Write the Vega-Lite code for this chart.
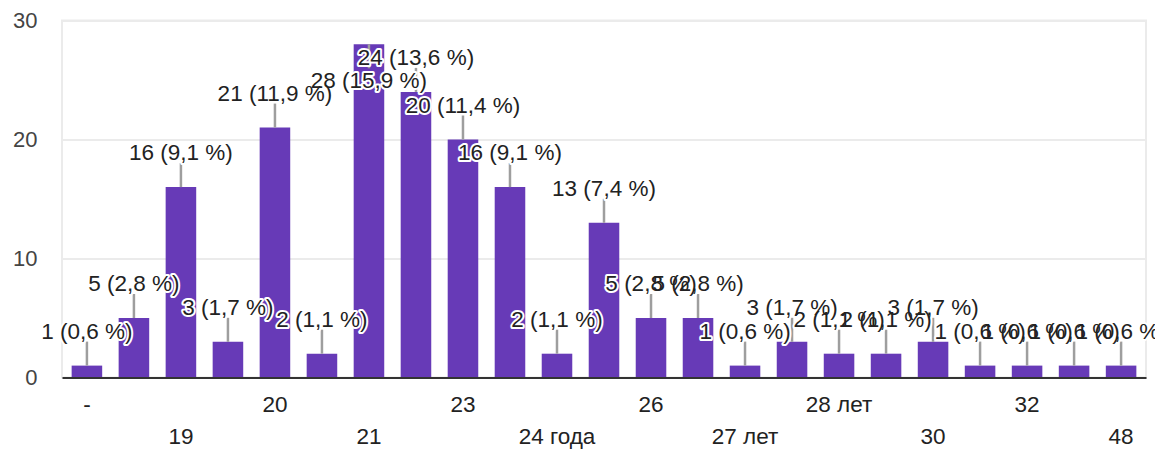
{
  "$schema": "https://vega.github.io/schema/vega-lite/v6.json",
  "width": 1084,
  "height": 357,
  "autosize": {"type": "none"},
  "padding": {"left": 62, "top": 20.5, "right": 9, "bottom": 74.5},
  "background": "white",
  "config": {"view": {"stroke": "#ebebeb", "strokeWidth": 2}, "font": "Liberation Sans"},
  "data": {
    "values": [
      {"age": "-", "count": 1, "label": "1 (0,6 %)"},
      {"age": "18", "count": 5, "label": "5 (2,8 %)"},
      {"age": "19", "count": 16, "label": "16 (9,1 %)"},
      {"age": "19 лет", "count": 3, "label": "3 (1,7 %)"},
      {"age": "20", "count": 21, "label": "21 (11,9 %)"},
      {"age": "20 лет", "count": 2, "label": "2 (1,1 %)"},
      {"age": "21", "count": 28, "label": "28 (15,9 %)"},
      {"age": "22", "count": 24, "label": "24 (13,6 %)"},
      {"age": "23", "count": 20, "label": "20 (11,4 %)"},
      {"age": "24", "count": 16, "label": "16 (9,1 %)"},
      {"age": "24 года", "count": 2, "label": "2 (1,1 %)"},
      {"age": "25", "count": 13, "label": "13 (7,4 %)"},
      {"age": "26", "count": 5, "label": "5 (2,8 %)"},
      {"age": "27", "count": 5, "label": "5 (2,8 %)"},
      {"age": "27 лет", "count": 1, "label": "1 (0,6 %)"},
      {"age": "28", "count": 3, "label": "3 (1,7 %)"},
      {"age": "28 лет", "count": 2, "label": "2 (1,1 %)"},
      {"age": "29", "count": 2, "label": "2 (1,1 %)"},
      {"age": "30", "count": 3, "label": "3 (1,7 %)"},
      {"age": "31", "count": 1, "label": "1 (0,6 %)"},
      {"age": "32", "count": 1, "label": "1 (0,6 %)"},
      {"age": "35", "count": 1, "label": "1 (0,6 %)"},
      {"age": "48", "count": 1, "label": "1 (0,6 %)"}
    ]
  },
  "encoding": {
    "x": {
      "field": "age",
      "type": "nominal",
      "sort": null,
      "scale": {"paddingInner": 0.35, "paddingOuter": 0.205},
      "axis": {
        "title": null,
        "zindex": 1,
        "domainColor": "#333333",
        "domainWidth": 2,
        "ticks": false,
        "labelAngle": 0,
        "labelFontSize": 22.5,
        "labelColor": "#222222",
        "labelPadding": 16,
        "labelLineHeight": 32,
        "labelOverlap": false,
        "labelExpr": "indexof(['-','20','23','26','28 лет','32'], datum.value) >= 0 ? datum.value : (indexof(['19','21','24 года','27 лет','30','48'], datum.value) >= 0 ? ['', datum.value] : '')"
      }
    },
    "y": {
      "field": "count",
      "type": "quantitative",
      "scale": {"domain": [0, 30]},
      "axis": {
        "title": null,
        "values": [0, 10, 20, 30],
        "domain": false,
        "ticks": false,
        "gridColor": "#ebebeb",
        "gridWidth": 2,
        "labelFontSize": 22,
        "labelColor": "#444444",
        "labelPadding": 25
      }
    }
  },
  "layer": [
    {"mark": {"type": "bar", "color": "#673ab7"}},
    {
      "transform": [{"filter": "datum.count < 28"}],
      "mark": {"type": "rule", "color": "#9e9e9e", "strokeWidth": 2.5, "y2Offset": -24},
      "encoding": {"y2": {"field": "count"}}
    },
    {
      "transform": [{"filter": "datum.count >= 28"}],
      "mark": {"type": "rule", "color": "#9e9e9e", "strokeWidth": 2.5, "y2Offset": 24},
      "encoding": {"y2": {"field": "count"}}
    },
    {
      "transform": [{"filter": "datum.count < 28"}],
      "mark": {"type": "text", "fontSize": 22.5, "dy": -34, "baseline": "middle", "align": "center", "fill": "white", "stroke": "white", "strokeWidth": 4, "strokeJoin": "round"},
      "encoding": {"text": {"field": "label"}}
    },
    {
      "transform": [{"filter": "datum.count >= 28"}],
      "mark": {"type": "text", "fontSize": 22.5, "dy": 37, "baseline": "middle", "align": "center", "fill": "white", "stroke": "white", "strokeWidth": 4, "strokeJoin": "round"},
      "encoding": {"text": {"field": "label"}}
    },
    {
      "transform": [{"filter": "datum.count >= 28"}],
      "mark": {"type": "text", "fontSize": 22.5, "dy": 37, "baseline": "middle", "align": "center", "color": "#222222"},
      "encoding": {"text": {"field": "label"}}
    },
    {
      "transform": [{"filter": "datum.count < 28"}],
      "mark": {"type": "text", "fontSize": 22.5, "dy": -34, "baseline": "middle", "align": "center", "color": "#222222"},
      "encoding": {"text": {"field": "label"}}
    }
  ]
}
